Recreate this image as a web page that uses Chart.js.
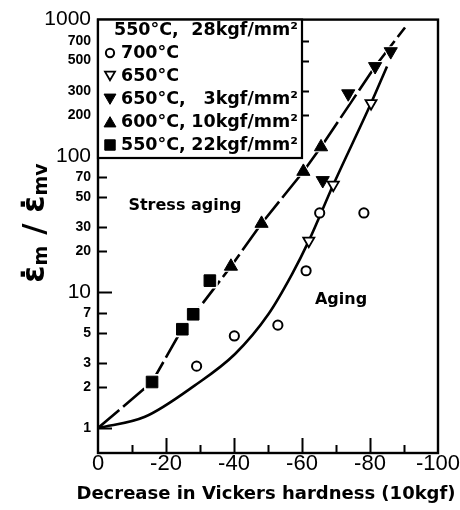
<!DOCTYPE html>
<html>
<head>
<meta charset="utf-8">
<script src="https://cdn.jsdelivr.net/npm/chart.js@4/dist/chart.umd.min.js"></script>
<style>
  html, body { margin: 0; padding: 0; background: #fff; }
  #wrap { width: 460px; height: 510px; position: relative; }
</style>
</head>
<body>
<div id="wrap"><canvas id="c" width="460" height="510"></canvas></div>
<script>
// ---- tick values ----
const xTickLabels = [0, -20, -40, -60, -80, -100];
const xTickMarks = [-10, -20, -30, -40, -50, -60, -70, -80, -90];
const yTickValues = [1, 2, 3, 5, 7, 10, 20, 30, 50, 70, 100, 200, 300, 500, 700, 1000];
const yDecades = [1, 10, 100, 1000];

// ---- measured series (x: change in hardness, y: strain-rate ratio) ----
const aging700X = [-29.0, -40.1, -52.9, -61.2, -65.2, -78.2];
const aging700Y = [2.85, 4.75, 5.7, 14.3, 38.0, 38.0];

const aging650X = [-62.0, -69.2, -80.3];
const aging650Y = [23.7, 61.2, 243];

const stress650X = [-66.1, -73.6, -81.5, -86.1];
const stress650Y = [65.9, 286, 453, 583];

const stress600X = [-39.1, -48.1, -60.4, -65.6];
const stress600Y = [15.4, 31.8, 76.6, 116];

const stress550X = [-15.9, -24.8, -28.0, -32.9];
const stress550Y = [2.18, 5.32, 6.85, 12.1];

// ---- fitted curves ----
const stressCurveX = [0, -15.9, -23.6, -30.5, -39.1, -48.1, -60.4, -65.6, -81.5, -90.3];
const stressCurveY = [1, 2.18, 4.76, 8.07, 15.4, 31.8, 76.6, 116, 453, 876];

const agingCurveX = [0, -13.8, -28.5, -40.3, -50.1, -57.0, -62.0, -69.2, -80.3, -85.0];
const agingCurveY = [1, 1.21, 2.06, 3.5, 6.85, 13.4, 23.7, 61.2, 243, 453];

// ---- legend rows ----
const legendTitleLeft = '550°C,';
const legendTitleRight = '28kgf/mm²';
const legendRows = [
  { left: '700°C', right: '' },
  { left: '650°C', right: '' },
  { left: '650°C,', right: '3kgf/mm²' },
  { left: '600°C,', right: '10kgf/mm²' },
  { left: '550°C,', right: '22kgf/mm²' }
];

const pairs = (xs, ys) => xs.map((x, i) => ({ x: x, y: ys[i] }));

// marker styles shared by plot and legend
const mk = {
  circleOpen:   { pointStyle: 'circle',   radius: 4.6, rotation: 0,   fill: '#fff', border: '#000', bw: 2 },
  triOpenDown:  { pointStyle: 'triangle', radius: 6.4, rotation: 180, fill: '#fff', border: '#000', bw: 1.8 },
  triDown:      { pointStyle: 'triangle', radius: 7.6, rotation: 180, fill: '#000', border: '#000', bw: 1 },
  triUp:        { pointStyle: 'triangle', radius: 7.6, rotation: 0,   fill: '#000', border: '#000', bw: 1 },
  square:       { pointStyle: 'rect',     radius: 8.2, rotation: 0,   fill: '#000', border: '#000', bw: 1 }
};

function markerSet(label, xs, ys, s, order) {
  return {
    label: label, data: pairs(xs, ys), showLine: false, order: order,
    pointStyle: s.pointStyle, pointRadius: s.radius, pointRotation: s.rotation,
    pointBackgroundColor: s.fill, pointBorderColor: s.border, pointBorderWidth: s.bw,
    pointHoverRadius: s.radius
  };
}
// white halo that opens a small gap in the curve around a filled marker
function haloSet(xs, ys, s) {
  return {
    label: '', data: pairs(xs, ys), showLine: false, order: 5,
    pointStyle: s.pointStyle, pointRadius: s.radius + 3, pointRotation: s.rotation,
    pointBackgroundColor: '#fff', pointBorderColor: '#fff', pointBorderWidth: 0,
    pointHoverRadius: s.radius + 3
  };
}

const frameAndText = {
  id: 'frameAndText',
  afterDatasetsDraw(chart) {
    const ctx = chart.ctx;
    const a = chart.chartArea;
    const xs = chart.scales.x, ys = chart.scales.y;
    ctx.save();
    ctx.strokeStyle = '#000';
    ctx.lineCap = 'butt';

    // plot frame
    ctx.lineWidth = 2.4;
    ctx.strokeRect(a.left, a.top, a.right - a.left, a.bottom - a.top);

    // inward tick marks
    ctx.lineWidth = 2;
    ctx.beginPath();
    yTickValues.forEach(v => {
      const py = Math.round(ys.getPixelForValue(v)) + 0.5;
      const len = yDecades.includes(v) ? 14 : 9;
      ctx.moveTo(a.left, py); ctx.lineTo(a.left + len, py);
    });
    xTickMarks.forEach(v => {
      const px = Math.round(xs.getPixelForValue(v)) + 0.5;
      const len = (v % 20 === 0) ? 15 : 8;
      ctx.moveTo(px, a.bottom); ctx.lineTo(px, a.bottom - len);
    });
    ctx.stroke();

    // legend box
    const lx0 = a.left, ly0 = a.top, lx1 = 302, ly1 = 158;
    ctx.fillStyle = '#fff';
    ctx.fillRect(lx0, ly0, lx1 - lx0, ly1 - ly0);
    ctx.lineWidth = 2.2;
    ctx.strokeRect(lx0, ly0, lx1 - lx0, ly1 - ly0);
    // small ticks on the legend's right edge
    ctx.lineWidth = 2;
    ctx.beginPath();
    [700, 500, 300, 200].forEach(v => {
      const py = Math.round(ys.getPixelForValue(v)) + 0.5;
      ctx.moveTo(lx1, py); ctx.lineTo(lx1 + 7, py);
    });
    ctx.stroke();

    ctx.fillStyle = '#000';
    ctx.font = 'bold 17.5px "DejaVu Sans"';
    ctx.textBaseline = 'middle';
    const rowY0 = 30, rowStep = 23, textL = 121, textR = 298, markX = 110;
    ctx.textAlign = 'left';
    ctx.fillText(legendTitleLeft, 114, rowY0);
    ctx.textAlign = 'right';
    ctx.fillText(legendTitleRight, textR, rowY0);
    const styles = [mk.circleOpen, mk.triOpenDown, mk.triDown, mk.triUp, mk.square];
    legendRows.forEach((r, i) => {
      const y = rowY0 + rowStep * (i + 1);
      const s = styles[i];
      ctx.fillStyle = s.fill; ctx.strokeStyle = s.border; ctx.lineWidth = s.bw;
      const yOff = s.pointStyle === 'triangle' ? (s.rotation ? -1.5 : 1.5) : 0;
      Chart.helpers.drawPoint(ctx, { pointStyle: s.pointStyle, radius: s.radius * 0.9, rotation: s.rotation, borderWidth: s.bw }, markX, y + yOff);
      ctx.fillStyle = '#000';
      ctx.textAlign = 'left';
      ctx.fillText(r.left, textL, y);
      if (r.right) { ctx.textAlign = 'right'; ctx.fillText(r.right, textR, y); }
    });

    // curve labels
    ctx.font = 'bold 16px "DejaVu Sans"';
    ctx.textAlign = 'center';
    ctx.fillText('Stress aging', 185, 206);
    ctx.fillText('Aging', 341, 300);

    // x-axis title
    ctx.font = 'bold 18px "DejaVu Sans"';
    ctx.fillText('Decrease in Vickers hardness (10kgf)', 266, 494);

    // y-axis title: ε̇m / ε̇mv, rotated
    const big = 'bold 31px "DejaVu Sans"', small = 'bold 19px "DejaVu Sans"';
    const parts = [
      { t: 'ε\u0307', f: big, dy: 0 },
      { t: 'm', f: small, dy: 3 },
      { t: ' / ', f: big, dy: 0 },
      { t: 'ε\u0307', f: big, dy: 0 },
      { t: 'mv', f: small, dy: 3 }
    ];
    let total = 0;
    parts.forEach(p => { ctx.font = p.f; p.w = ctx.measureText(p.t).width; total += p.w; });
    ctx.translate(44, 223);
    ctx.rotate(-Math.PI / 2);
    ctx.textAlign = 'left';
    ctx.textBaseline = 'alphabetic';
    let cx = -total / 2;
    parts.forEach(p => { ctx.font = p.f; ctx.fillText(p.t, cx, p.dy); cx += p.w; });
    ctx.restore();
  }
};

new Chart(document.getElementById('c'), {
  type: 'scatter',
  data: {
    datasets: [
      // curves (bottom layer)
      { label: 'Stress aging', data: pairs(stressCurveX, stressCurveY), showLine: true, order: 9,
        borderColor: '#000', borderWidth: 2.6, borderDash: [28, 5], pointRadius: 0, pointHoverRadius: 0,
        tension: 0, fill: false },
      { label: 'Aging', data: pairs(agingCurveX, agingCurveY), showLine: true, order: 8,
        borderColor: '#000', borderWidth: 2.6, pointRadius: 0, pointHoverRadius: 0,
        cubicInterpolationMode: 'monotone', fill: false },
      // halos
      haloSet(stress650X, stress650Y, mk.triDown),
      haloSet(stress600X, stress600Y, mk.triUp),
      haloSet(stress550X, stress550Y, mk.square),
      // markers
      markerSet('700°C', aging700X, aging700Y, mk.circleOpen, 1),
      markerSet('650°C', aging650X, aging650Y, mk.triOpenDown, 1),
      markerSet('650°C, 3kgf/mm²', stress650X, stress650Y, mk.triDown, 1),
      markerSet('600°C, 10kgf/mm²', stress600X, stress600Y, mk.triUp, 1),
      markerSet('550°C, 22kgf/mm²', stress550X, stress550Y, mk.square, 1)
    ]
  },
  options: {
    responsive: false,
    animation: false,
    devicePixelRatio: 1,
    layout: { padding: { top: 16, right: 22, left: 0, bottom: 0 } },
    plugins: { legend: { display: false }, tooltip: { enabled: false } },
    events: [],
    scales: {
      x: {
        type: 'linear', min: -100, max: 0, reverse: true,
        grid: { display: false, drawTicks: false },
        border: { display: false },
        afterBuildTicks: s => { s.ticks = xTickLabels.map(v => ({ value: v })); },
        afterFit: s => { s.height = 57; },
        ticks: {
          autoSkip: false, maxRotation: 0, padding: -2, color: '#000',
          font: { family: '"Liberation Sans", Arial, sans-serif', size: 22 },
          callback: v => String(v)
        }
      },
      y: {
        type: 'logarithmic', min: 0.656, max: 1000,
        grid: { display: false, drawTicks: false },
        border: { display: false },
        afterBuildTicks: s => { s.ticks = yTickValues.map(v => ({ value: v })); },
        afterFit: s => { s.width = 98; },
        ticks: {
          autoSkip: false, padding: 7, color: '#000',
          font: c => yDecades.includes(c.tick && c.tick.value) && c.tick.value !== 1
            ? { family: '"Liberation Sans", Arial, sans-serif', size: 21 }
            : { family: '"Liberation Sans Narrow", "Liberation Sans", Arial, sans-serif', size: 14, weight: 'bold' },
          callback: v => String(v)
        }
      }
    }
  },
  plugins: [frameAndText]
});
</script>
</body>
</html>
